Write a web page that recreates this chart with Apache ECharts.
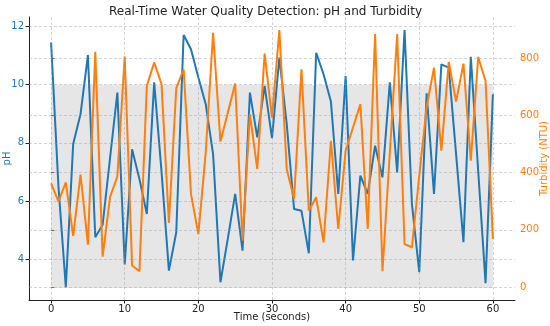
<!DOCTYPE html>
<html>
<head>
<meta charset="utf-8">
<script src="https://cdn.jsdelivr.net/npm/echarts@6/dist/echarts.min.js"></script>
<style>html,body{margin:0;padding:0;background:#fff}#c{width:550px;height:326px}</style>
</head>
<body>
<div id="c"></div>
<script>
const timeSeconds = Array.from({length: 61}, (_, i) => i);
const phValues = [11.45, 6.5, 3.03, 7.96, 8.99, 11.02, 4.75, 5.18, 7.46, 9.73,
  3.81, 7.78, 6.75, 5.55, 10.08, 7.0, 3.6, 4.92, 11.71, 11.22,
  10.25, 9.33, 7.61, 3.2, 4.7, 6.24, 4.29, 9.73, 8.19, 9.96,
  8.16, 10.93, 8.64, 5.72, 5.66, 4.2, 11.1, 10.36, 9.42, 6.24,
  10.3, 3.95, 6.87, 6.24, 7.9, 6.81, 10.08, 6.98, 11.88, 5.9,
  3.55, 9.7, 6.24, 10.7, 10.59, 7.61, 4.58, 10.96, 7.04, 3.17, 9.67];
const turbidityValues = [363, 300, 366, 179, 393, 148, 823, 106, 314, 387,
  807, 75, 55, 704, 786, 710, 224, 696, 762, 325,
  185, 470, 890, 509, 610, 712, 162, 605, 413, 817,
  593, 899, 413, 308, 762, 267, 314, 156, 512, 203,
  477, 558, 640, 203, 885, 55, 470, 885, 150, 139,
  390, 630, 768, 477, 788, 649, 782, 442, 805, 721, 168];
const xTicks = [0, 10, 20, 30, 40, 50, 60];
const phTicks = [4, 6, 8, 10, 12];
const turbTicks = [0, 200, 400, 600, 800];
const safeBand = [3, 10];

const FONT = 'DejaVu Sans';
const BLUE = '#1f77b4', ORANGE = '#ff7f0e';
const gridStyle = {color: 'rgba(150,150,150,0.5)', type: [3, 2], width: 0.8};

const chart = echarts.init(document.getElementById('c'), null, {renderer: 'canvas'});
chart.setOption({
  animation: false,
  textStyle: {fontFamily: FONT},
  title: {
    text: 'Real-Time Water Quality Detection: pH and Turbidity',
    left: 104, top: 1,
    textStyle: {fontFamily: FONT, fontSize: 12, fontWeight: 'normal', color: '#222'}
  },
  grid: {left: 29, right: 35, top: 17, bottom: 26, containLabel: false, outerBoundsMode: 'none'},
  xAxis: {
    type: 'value', min: -3, max: 63,
    name: 'Time (seconds)', nameLocation: 'middle', nameGap: 12, nameMoveOverlap: false,
    nameTextStyle: {fontFamily: FONT, fontSize: 10, color: '#222'},
    axisLine: {show: true, onZero: false, lineStyle: {color: '#222', width: 1}},
    axisTick: {show: true, length: 3.5, customValues: xTicks, lineStyle: {color: '#222'}},
    axisLabel: {customValues: xTicks, fontFamily: FONT, fontSize: 10, color: '#222', margin: 4},
    splitLine: {show: false}
  },
  yAxis: [{
    type: 'value', min: 2.59, max: 12.33, position: 'left',
    name: 'pH', nameLocation: 'middle', nameGap: 17, nameRotate: 90, nameMoveOverlap: false,
    nameTextStyle: {fontFamily: FONT, fontSize: 10, color: BLUE},
    axisLine: {show: true, onZero: false, lineStyle: {color: '#222', width: 1}},
    axisTick: {show: true, length: 3.5, customValues: phTicks, lineStyle: {color: '#222'}},
    axisLabel: {customValues: phTicks, fontFamily: FONT, fontSize: 10, color: BLUE, margin: 5},
    splitLine: {show: false}
  }, {
    type: 'value', min: -45.5, max: 945, position: 'right',
    name: 'Turbidity (NTU)', nameLocation: 'middle', nameGap: 24, nameRotate: 90, nameMoveOverlap: false,
    nameTextStyle: {fontFamily: FONT, fontSize: 10, color: ORANGE},
    axisLine: {show: false},
    axisTick: {show: true, length: 3, customValues: turbTicks, lineStyle: {color: '#666'}},
    axisLabel: {customValues: turbTicks, fontFamily: FONT, fontSize: 10, color: ORANGE, margin: 5},
    splitLine: {show: false}
  }],
  series: [{
    type: 'line', data: [], z: -2, silent: true,
    markArea: {
      silent: true,
      itemStyle: {color: 'rgba(128,128,128,0.2)'},
      data: [[{coord: [0, safeBand[0]]}, {coord: [60, safeBand[1]]}]]
    }
  }, {
    type: 'line', data: [], z: -1, silent: true, yAxisIndex: 0,
    markLine: {
      silent: true, symbol: 'none', label: {show: false}, lineStyle: gridStyle,
      data: xTicks.map(v => ({xAxis: v})).concat(phTicks.map(v => ({yAxis: v})))
    }
  }, {
    type: 'line', data: [], z: -1, silent: true, yAxisIndex: 1,
    markLine: {
      silent: true, symbol: 'none', label: {show: false}, lineStyle: gridStyle,
      data: turbTicks.map(v => ({yAxis: v}))
    }
  }, {
    name: 'pH', type: 'line', yAxisIndex: 0, z: 3,
    data: timeSeconds.map((t, i) => [t, phValues[i]]),
    showSymbol: false, lineStyle: {color: BLUE, width: 2}, itemStyle: {color: BLUE}
  }, {
    name: 'Turbidity', type: 'line', yAxisIndex: 1, z: 4,
    data: timeSeconds.map((t, i) => [t, turbidityValues[i]]),
    showSymbol: false, lineStyle: {color: ORANGE, width: 2}, itemStyle: {color: ORANGE}
  }]
});
</script>
</body>
</html>
